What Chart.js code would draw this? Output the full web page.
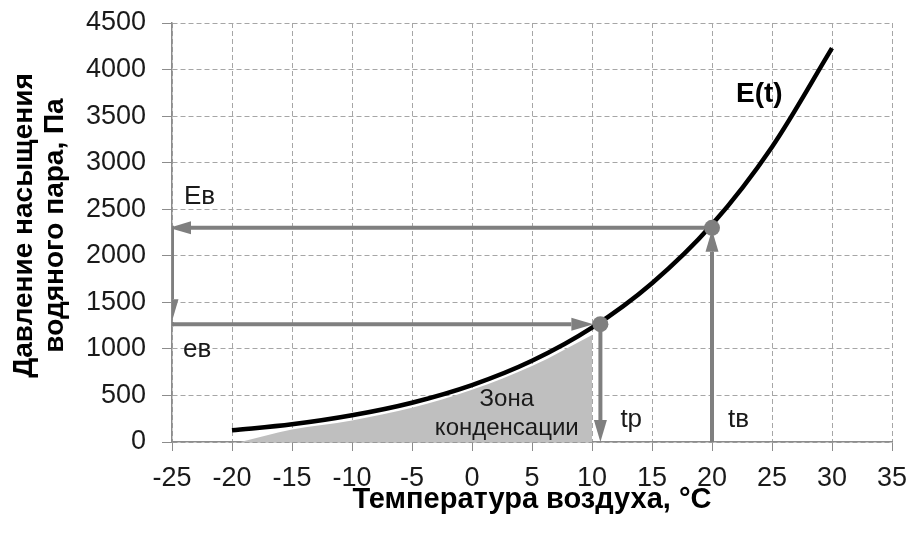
<!DOCTYPE html>
<html>
<head>
<meta charset="utf-8">
<script src="https://cdn.jsdelivr.net/npm/chart.js@4/dist/chart.umd.min.js"></script>
<style>
  html, body { margin: 0; padding: 0; background: #fff; }
  #wrap { width: 912px; height: 537px; }
</style>
</head>
<body>
<div id="wrap"><canvas id="c" width="912" height="537"></canvas></div>
<script>
// ---- Data ----
const temps    = [-20, -15, -10, -5, 0, 5, 10, 15, 20, 25, 30];
const pressure = [125, 190, 287, 422, 611, 872, 1228, 1705, 2335, 3169, 4230];

// condensation zone (upper boundary)
const zoneTemps    = [-19.3, -15, -10, -5, 0, 5, 10];
const zonePressure = [0, 135, 232, 367, 560, 815, 1150];

// construction values
const Ev = 2300;   // saturation pressure at air temperature
const ev = 1265;   // actual vapour pressure
const tv = 20;     // air temperature
const tp = 10.7;   // dew point
const tMin = -25;

const xTicks = [-25, -20, -15, -10, -5, 0, 5, 10, 15, 20, 25, 30, 35];
const yTicks = [0, 500, 1000, 1500, 2000, 2500, 3000, 3500, 4000, 4500];
const yTitle = ['Давление насыщения', 'водяного пара, Па'];
const xTitle = 'Температура воздуха, °C';

// ---- Chart ----
Chart.defaults.font.family = "'Liberation Sans', Arial, sans-serif";

const ARROW = '#7f7f7f';

function arrow(ctx, x1, y1, x2, y2, endGap) {
  const ang = Math.atan2(y2 - y1, x2 - x1);
  const ex = x2 - Math.cos(ang) * endGap, ey = y2 - Math.sin(ang) * endGap;
  const L = 22, W = 6.5;
  const bx = ex - Math.cos(ang) * L, by = ey - Math.sin(ang) * L;
  ctx.beginPath();
  ctx.moveTo(x1, y1);
  ctx.lineTo(bx, by);
  ctx.stroke();
  ctx.beginPath();
  ctx.moveTo(ex, ey);
  ctx.lineTo(bx - Math.sin(ang) * W, by + Math.cos(ang) * W);
  ctx.lineTo(bx + Math.sin(ang) * W, by - Math.cos(ang) * W);
  ctx.closePath();
  ctx.fill();
}

const constructionPlugin = {
  id: 'construction',
  beforeDatasetsDraw(chart) {
    const {ctx, chartArea, scales: {x, y}} = chart;
    ctx.save();
    ctx.beginPath();
    ctx.rect(chartArea.left, chartArea.top, chartArea.right - chartArea.left, chartArea.bottom - chartArea.top);
    ctx.clip();
    ctx.strokeStyle = ARROW;
    ctx.fillStyle = ARROW;
    ctx.lineWidth = 4;
    ctx.lineCap = 'butt';
    const X = v => x.getPixelForValue(v), Y = v => y.getPixelForValue(v);
    arrow(ctx, X(tv), Y(Ev), X(tMin), Y(Ev), -3);
    arrow(ctx, X(tMin), Y(Ev) - 2, X(tMin), Y(ev), 3);
    ctx.beginPath(); ctx.moveTo(X(tMin), Y(ev)); ctx.lineTo(X(tMin) + 2, Y(ev)); ctx.stroke();
    arrow(ctx, X(tMin), Y(ev), X(tp), Y(ev), 7);
    arrow(ctx, X(tp), Y(ev), X(tp), Y(0), 0);
    arrow(ctx, X(tv), Y(0), X(tv), Y(Ev), 2);
    ctx.restore();
  },
  afterDatasetsDraw(chart) {
    const {ctx, chartArea, scales: {x, y}} = chart;
    const X = v => x.getPixelForValue(v), Y = v => y.getPixelForValue(v);
    ctx.save();
    ctx.fillStyle = '#1a1a1a';
    ctx.textBaseline = 'middle';
    ctx.textAlign = 'left';
    ctx.font = "26px 'Liberation Sans', Arial, sans-serif";
    ctx.fillText('Ев', X(tMin) + 12, Y(Ev) - 31);
    ctx.fillText('ев', X(tMin) + 11, Y(ev) + 26);
    ctx.fillText('tр', X(tp) + 20, Y(0) - 22);
    ctx.fillText('tв', X(tv) + 16, Y(0) - 22);
    ctx.textAlign = 'center';
    ctx.font = "24px 'Liberation Sans', Arial, sans-serif";
    ctx.fillText('Зона', X(2.9), Y(0) - 43);
    ctx.fillText('конденсации', X(2.9), Y(0) - 14);
    ctx.textAlign = 'left';
    ctx.fillStyle = '#000';
    ctx.font = "bold 28px 'Liberation Sans', Arial, sans-serif";
    ctx.fillText('E(t)', 736, 94);
    // y-axis title (two lines, rotated)
    ctx.save();
    ctx.translate(0, (chartArea.top + chartArea.bottom) / 2 - 7);
    ctx.rotate(-Math.PI / 2);
    ctx.textAlign = 'center';
    ctx.textBaseline = 'middle';
    ctx.font = "bold 28px 'Liberation Sans', Arial, sans-serif";
    ctx.fillText(yTitle[0], 0, 24);
    ctx.fillText(yTitle[1], 0, 55);
    ctx.restore();
    ctx.restore();
  }
};

const curve = temps.map((t, i) => ({x: t, y: pressure[i]}));
const zone  = zoneTemps.map((t, i) => ({x: t, y: zonePressure[i]}));
const dots  = [{x: tv, y: Ev}, {x: tp, y: ev}];

new Chart(document.getElementById('c'), {
  type: 'line',
  data: {
    datasets: [
      {
        data: dots, showLine: false, pointRadius: 8, pointBackgroundColor: ARROW,
        pointBorderWidth: 0, order: 0
      },
      {
        data: curve, borderColor: '#000', borderWidth: 4.5, pointRadius: 0,
        cubicInterpolationMode: 'monotone', fill: false, order: 1
      },
      {
        data: zone, borderWidth: 0, borderColor: 'rgba(0,0,0,0)', backgroundColor: '#bfbfbf',
        pointRadius: 0, cubicInterpolationMode: 'monotone', fill: 'origin', order: 2
      }
    ]
  },
  options: {
    responsive: false,
    animation: false,
    events: [],
    layout: { padding: { top: 23, right: 20, left: 0, bottom: 0 } },
    plugins: { legend: { display: false }, tooltip: { enabled: false } },
    scales: {
      x: {
        type: 'linear', min: xTicks[0], max: xTicks[xTicks.length - 1],
        afterBuildTicks: s => { s.ticks = xTicks.map(v => ({value: v})); },
        afterFit: s => { s.height = 95; s.paddingLeft = 0; s.paddingRight = 0; },
        ticks: { color: '#1a1a1a', font: { size: 27 }, padding: 11, maxRotation: 0, autoSkip: false,
                 callback: v => String(v) },
        grid: { color: '#a6a6a6', lineWidth: 1, tickLength: 9, tickColor: '#8c8c8c', tickBorderDash: [] },
        border: { color: '#8c8c8c', width: 1.5, dash: [5, 3] },
        title: {
          display: true, text: xTitle, color: '#000',
          font: { size: 29, weight: 'bold', lineHeight: 1.15 }, padding: { top: 0, bottom: 20 }
        }
      },
      y: {
        type: 'linear', min: yTicks[0], max: yTicks[yTicks.length - 1],
        afterBuildTicks: s => { s.ticks = yTicks.map(v => ({value: v})); },
        afterFit: s => { s.width = 172; s.paddingTop = 0; s.paddingBottom = 0; },
        ticks: { color: '#1a1a1a', font: { size: 27 }, padding: 16, callback: v => String(v) },
        grid: { color: '#a6a6a6', lineWidth: 1, tickLength: 10, tickColor: '#8c8c8c', tickBorderDash: [] },
        border: { color: '#8c8c8c', width: 1.5, dash: [5, 3] },
        title: { display: false }
      }
    }
  },
  plugins: [constructionPlugin]
});
</script>
</body>
</html>
